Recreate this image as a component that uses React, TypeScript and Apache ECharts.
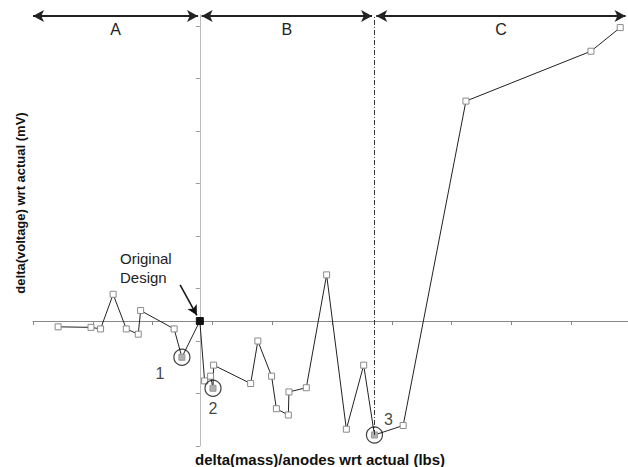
import React, { useEffect, useRef } from "react";
import * as echarts from "echarts";

// delta(mass)/anodes (x) and delta(voltage) (y), relative to the original design at (0, 0)
const massDelta = [
  -2.37, -1.82, -1.66, -1.45, -1.23, -1.03, -0.99, -0.43, -0.30, 0,
  0.08, 0.18, 0.22, 0.23, 0.85, 0.97, 1.2, 1.28, 1.48, 1.49, 1.78, 2.12, 2.45, 2.74, 2.92,
  3.4, 4.45, 6.54, 7.03,
];
const voltageDelta = [
  -0.11, -0.12, -0.15, 0.51, -0.15, -0.25, 0.2, -0.15, -0.69, 0,
  -1.14, -1.05, -1.28, -0.84, -1.19, -0.38, -1.05, -1.67, -1.79, -1.35, -1.27, 0.88, -2.06, -0.84, -2.17,
  -1.99, 4.19, 5.14, 5.59,
];
const originalIndex = 9;
const circledIndices = [8, 12, 24];
const circledLabels = ["1", "2", "3"];
const dividerIndex = 24;

const xTicks = [-2.79, -1.79, -0.79, 0.21, 1.21, 2.21, 3.21, 4.21, 5.21, 6.21];
const yTicks = [-2.38, -1.38, -0.38, 0.62, 1.62, 2.62, 3.62, 4.62, 5.62];

const regionNames = ["A", "B", "C"];
const regionStarts = [-2.79, 0.03, 2.95];
const regionEnds = [-0.03, 2.88, 7.12];
const regionArrowY = 5.81;

const designArrowFrom = [-0.33, 0.69];
const designArrowTo = [-0.05, 0.11];

const FONT = "'Liberation Sans', Arial, sans-serif";

export default function App() {
  const ref = useRef<HTMLDivElement>(null);
  useEffect(() => {
    if (!ref.current) return;
    const chart = echarts.init(ref.current, null, { renderer: "svg" });
    const labelOffsets: Record<string, number[]> = { "1": [-22, 16], "2": [0, 20], "3": [14, -15] };
    const lineData = massDelta.map((x, i) => {
      const item: any = { value: [x, voltageDelta[i]] };
      if (i === originalIndex) {
        item.symbolSize = 7;
        item.itemStyle = { color: "#111", borderColor: "#111" };
      } else if (circledIndices.includes(i)) {
        item.itemStyle = { color: "#b0b0b0", borderColor: "#999" };
      }
      return item;
    });
    const circleData = circledIndices.map((idx, k) => ({
      value: [massDelta[idx], voltageDelta[idx]],
      name: circledLabels[k],
      label: { offset: labelOffsets[circledLabels[k]] },
    }));
    chart.setOption({
      animation: false,
      grid: { left: 33, right: 0, top: 15, bottom: 21, containLabel: false, outerBoundsMode: "none" },
      xAxis: {
        type: "value",
        min: -2.79,
        max: 7.16,
        splitLine: { show: false },
        axisLabel: { show: false },
        axisLine: { onZero: true, lineStyle: { color: "#888", width: 1 } },
        axisTick: { show: true, customValues: xTicks, length: 4, lineStyle: { color: "#888" } },
      },
      yAxis: {
        type: "value",
        min: -2.38,
        max: 5.83,
        splitLine: { show: false },
        axisLabel: { show: false },
        axisLine: { onZero: true, lineStyle: { color: "#bbb", width: 1 } },
        axisTick: { show: true, customValues: yTicks, length: 4, lineStyle: { color: "#999" } },
      },
      series: [
        {
          type: "line",
          data: lineData,
          symbol: "rect",
          symbolSize: 6,
          silent: true,
          clip: false,
          z: 3,
          lineStyle: { color: "#222", width: 1 },
          itemStyle: { color: "#fff", borderColor: "#8a8a8a", borderWidth: 1 },
        },
        {
          type: "scatter",
          data: circleData,
          symbol: "circle",
          symbolSize: 16,
          silent: true,
          z: 4,
          itemStyle: { color: "rgba(0,0,0,0)", borderColor: "#111", borderWidth: 1.2 },
          label: {
            show: true,
            position: "inside",
            formatter: "{b}",
            fontSize: 16,
            fontFamily: FONT,
            color: "#111",
          },
        },
        {
          type: "line",
          data: [],
          silent: true,
          clip: false,
          markLine: {
            silent: true,
            symbol: ["none", "none"],
            label: { show: false },
            lineStyle: { color: "#333", width: 1, type: [5, 2, 1, 2] },
            data: [
              [
                { coord: [massDelta[dividerIndex], voltageDelta[dividerIndex]] },
                { coord: [massDelta[dividerIndex], 5.82] },
              ],
            ],
          },
        },
        {
          type: "line",
          data: [],
          silent: true,
          clip: false,
          markLine: {
            silent: true,
            symbol: ["arrow", "arrow"],
            symbolSize: [9, 11],
            lineStyle: { color: "#222", width: 2, type: "solid" },
            label: {
              show: true,
              position: "insideMiddleBottom",
              formatter: "{b}",
              fontSize: 16,
              fontFamily: FONT,
              color: "#222",
              distance: 5,
            },
            data: regionNames.map((name, i) => [
              { coord: [regionStarts[i], regionArrowY], name },
              { coord: [regionEnds[i], regionArrowY] },
            ]),
          },
        },
        {
          type: "line",
          data: [],
          silent: true,
          clip: false,
          markLine: {
            silent: true,
            symbol: ["none", "arrow"],
            symbolSize: [8, 10],
            lineStyle: { color: "#111", width: 1.5, type: "solid" },
            label: { show: false },
            data: [[{ coord: designArrowFrom }, { coord: designArrowTo }]],
          },
        },
      ],
      graphic: [
        {
          type: "text",
          left: 120,
          top: 249,
          silent: true,
          style: {
            text: "Original\nDesign",
            font: `15px ${FONT}`,
            fill: "#222",
            lineHeight: 19,
          },
        },
        {
          type: "text",
          x: 195,
          y: 459,
          silent: true,
          style: {
            text: "delta(mass)/anodes wrt actual (lbs)",
            font: `bold 15px ${FONT}`,
            fill: "#111",
            align: "left",
            verticalAlign: "middle",
          },
        },
        {
          type: "text",
          x: 20,
          y: 203,
          rotation: Math.PI / 2,
          silent: true,
          style: {
            text: "delta(voltage) wrt actual (mV)",
            font: `bold 13px ${FONT}`,
            fill: "#111",
            align: "center",
            verticalAlign: "middle",
          },
        },
      ],
    });
    return () => chart.dispose();
  }, []);
  return (
    <div
      ref={ref}
      style={{ position: "fixed", left: 0, top: 0, width: 628, height: 467, background: "#fff" }}
    />
  );
}
